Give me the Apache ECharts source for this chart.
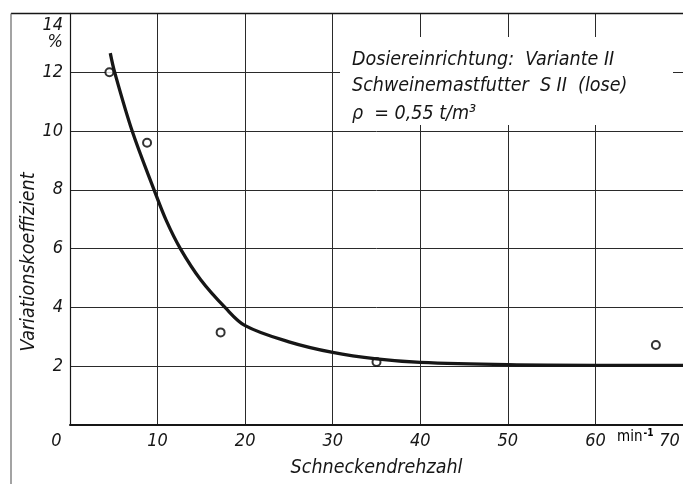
<!DOCTYPE html>
<html>
<head>
<meta charset="utf-8">
<script src="https://cdn.jsdelivr.net/npm/echarts@6/dist/echarts.min.js"></script>
<style>html,body{margin:0;padding:0;background:#fff}#c{width:683px;height:484px}</style>
</head>
<body>
<div id="c"></div>
<script>
// Fitted curve
const curveX = [4.6, 5.1, 7.1, 9.6, 11.0, 12.6, 14.9, 17.7, 20, 25, 30, 35, 40, 50, 60, 70];
const curveY = [12.65, 12.0, 10.0, 8.0, 6.95, 6.0, 4.95, 4.0, 3.38, 2.83, 2.47, 2.25, 2.13, 2.05, 2.03, 2.03];
// Measured points
const pointsX = [4.5, 8.8, 17.2, 35.0, 66.9];
const pointsY = [12.0, 9.6, 3.15, 2.14, 2.72];
// Axis ticks
const xTicks = [0, 10, 20, 30, 40, 50, 60, 70];
const yTicks = [0, 2, 4, 6, 8, 10, 12, 14];
const xName = 'Schneckendrehzahl';
const yName = 'Variationskoeffizient';
const noteLines = ['Dosiereinrichtung:  Variante II', 'Schweinemastfutter  S II  (lose)', 'ρ  = 0,55 t/m³'];

const NUMFONT = "'Liberation Sans Narrow', 'DejaVu Sans Condensed', sans-serif";
const TXTFONT = "'DejaVu Sans Condensed', 'DejaVu Sans', sans-serif";
const INK = '#161616';

const chart = echarts.init(document.getElementById('c'));
chart.setOption({
  backgroundColor: '#fff',
  animation: false,
  grid: { left: 70, right: -6, top: 13.4, bottom: 59, containLabel: false },
  xAxis: {
    type: 'value', min: xTicks[0], max: xTicks[xTicks.length - 1], interval: 10,
    name: xName, nameLocation: 'middle', nameGap: 33,
    nameTextStyle: { fontFamily: TXTFONT, fontStyle: 'italic', fontSize: 19.5, color: INK },
    axisLine: { show: true, lineStyle: { color: INK, width: 2 } },
    axisTick: { show: false },
    splitLine: { show: true, lineStyle: { color: '#2a2a2a', width: 1 } },
    axisLabel: {
      margin: 7, fontFamily: NUMFONT, fontStyle: 'italic', fontSize: 18, color: INK,
      showMaxLabel: true, showMinLabel: true,
      formatter: v => (v === 0 || v === 70) ? '{s|' + v + '}' : String(v),
      rich: { s: { fontFamily: NUMFONT, fontStyle: 'italic', fontSize: 18, color: INK, padding: [0, 27, 0, 0] } }
    }
  },
  yAxis: {
    type: 'value', min: yTicks[0], max: yTicks[yTicks.length - 1], interval: 2,
    axisLine: { show: true, lineStyle: { color: INK, width: 1.2 } },
    axisTick: { show: false },
    splitLine: { show: true, lineStyle: { color: '#2a2a2a', width: 1 } },
    axisLabel: {
      margin: 7, fontFamily: NUMFONT, fontStyle: 'italic', fontSize: 18, color: INK,
      showMaxLabel: true,
      formatter: v => v === 0 ? '' : (v === 14 ? '{t|14}' : String(v)),
      rich: { t: { fontFamily: NUMFONT, fontStyle: 'italic', fontSize: 18, color: INK, padding: [24, 0, 0, 0] } }
    }
  },
  series: [
    {
      type: 'scatter', z: 2,
      data: pointsX.map((x, i) => [x, pointsY[i]]),
      symbol: 'circle', symbolSize: 8,
      itemStyle: { color: '#fff', borderColor: '#000', borderWidth: 2 }
    },
    {
      type: 'line', z: 3, smooth: 0.35, showSymbol: false,
      data: curveX.map((x, i) => [x, curveY[i]]),
      lineStyle: { color: INK, width: 3.3 }
    }
  ],
  graphic: [
    { type: 'rect', z: 1, shape: { x: 340, y: 37, width: 333, height: 88 }, style: { fill: '#fff' } },
    { type: 'text', z: 5, x: 352, y: 60, style: { text: noteLines[0], fontFamily: NUMFONT, fontStyle: 'italic', fontSize: 19.5, fill: INK, textVerticalAlign: 'middle' } },
    { type: 'text', z: 5, x: 352, y: 86, style: { text: noteLines[1], fontFamily: NUMFONT, fontStyle: 'italic', fontSize: 19.5, fill: INK, textVerticalAlign: 'middle' } },
    { type: 'text', z: 5, x: 352, y: 114, style: { text: noteLines[2], fontFamily: NUMFONT, fontStyle: 'italic', fontSize: 19.5, fill: INK, textVerticalAlign: 'middle' } },
    { type: 'text', z: 5, x: 63, y: 42, style: { text: '%', fontFamily: NUMFONT, fontStyle: 'italic', fontSize: 18, fill: INK, textAlign: 'right', textVerticalAlign: 'middle' } },
    { type: 'text', z: 5, x: 617, y: 437, style: { text: '{a|min}{b|-1}', rich: { a: { fontFamily: TXTFONT, fontSize: 15, color: INK }, b: { fontFamily: TXTFONT, fontSize: 10, color: INK, fontWeight: 'bold', verticalAlign: 'top', padding: [0, 0, 8, 1] } }, textVerticalAlign: 'middle' } },
    { type: 'text', z: 5, x: 29, y: 262, rotation: Math.PI / 2, style: { text: yName, fontFamily: TXTFONT, fontStyle: 'italic', fontSize: 19.5, fill: INK, textAlign: 'center', textVerticalAlign: 'middle' } },
    { type: 'line', z: 5, shape: { x1: 11, y1: 13.4, x2: 683, y2: 13.4 }, style: { stroke: INK, lineWidth: 1.5 } },
    { type: 'line', z: 5, shape: { x1: 11, y1: 13.4, x2: 11, y2: 484 }, style: { stroke: '#666', lineWidth: 1.2 } }
  ]
});
</script>
</body>
</html>
